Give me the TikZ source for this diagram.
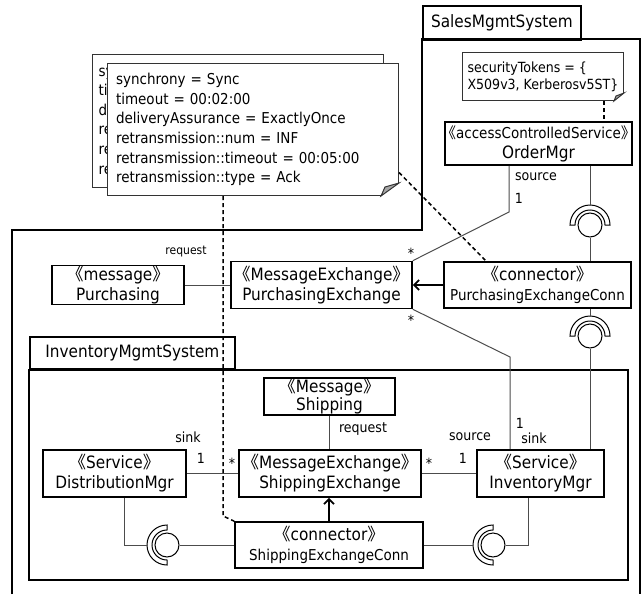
\documentclass[tikz,border=0pt]{standalone}
\usepackage{fontspec}
\setmainfont{DejaVu Sans}[FakeStretch=0.9]
\newfontfamily\cjk{Noto Sans CJK SC}
\usetikzlibrary{arrows.meta}
\newcommand\stereo[1]{{\cjk\kern-.45em《}#1{\cjk》\kern-.45em}}
\begin{document}
\begin{tikzpicture}[x=1pt,y=-1pt,
    sysframe/.style = {draw=black,line width=1.8pt},
    tab/.style = {rectangle,draw=black,line width=1.8pt,anchor=north west,inner sep=0pt,font=\fontsize{17}{20}\selectfont},
    block/.style = {rectangle,draw=black,line width=1.6pt,fill=white,align=center,inner sep=0pt,font=\fontsize{17}{20}\selectfont},
    smallblock/.style = {block,font=\fontsize{15}{20}\selectfont},
    memo/.style = {rectangle,draw=black!80,line width=1pt,fill=white,anchor=north west,align=left,inner xsep=6pt,font=\fontsize{15}{19.6}\selectfont},
    fold/.style = {draw=black!80,line width=1pt,fill=black!35},
    link/.style = {draw=black!70,line width=1pt},
    trace/.style = {draw=black,line width=1.5pt,dash pattern=on 4pt off 3pt},
    realize/.style = {draw=black,line width=1.8pt,-{Straight Barb[length=5pt,width=10pt]}},
    ball/.style = {circle,draw=black,line width=1pt,fill=white,minimum size=24pt,inner sep=0pt},
    sock/.style = {draw=black,line width=1pt,fill=white},
    lbl/.style = {inner sep=0pt,font=\fontsize{14}{16}\selectfont}]
\useasboundingbox (0,0) rectangle (642,594);
% system frames
\draw[sysframe] (12,594) -- (12,230) -- (422,230) -- (422,39) -- (640,39) -- (640,594);
\node[tab,minimum width=158pt,minimum height=34pt] (sales) at (422,5) {SalesMgmtSystem};
\node[tab,minimum width=205pt,minimum height=32pt] (inventory) at (29,336) {InventoryMgmtSystem};
\draw[sysframe] (inventory.south west) rectangle (628,580);
% notes
\node[memo,minimum width=291pt,minimum height=133pt,text width=279pt] (qosback) at (92,54)
    {sy\\ti\\d\\re\\re\\re};
\node[memo,minimum width=291pt,minimum height=132pt,text width=274pt,inner xsep=8.5pt] (qos) at (107,63)
    {synchrony = Sync\\timeout = 00:02:00\\deliveryAssurance = ExactlyOnce\\retransmission::num = INF\\retransmission::timeout = 00:05:00\\retransmission::type = Ack};
\fill[white] ([xshift=-18pt]qos.south east) -- (qos.south east) -- ([yshift=13pt]qos.south east) -- cycle;
\draw[fold] ([xshift=-18pt]qos.south east) -- ([yshift=13pt]qos.south east) -- ([xshift=-14pt,yshift=9pt]qos.south east) -- cycle;
\node[memo,minimum width=161pt,minimum height=48pt,inner xsep=0pt,font=\fontsize{14}{17}\selectfont] (tokens) at (462,52)
    {securityTokens = \{\\X509v3, Kerberosv5ST\}};
\fill[white] ([xshift=-10pt]tokens.south east) -- (tokens.south east) -- ([yshift=8pt]tokens.south east) -- cycle;
\draw[fold] ([xshift=-10pt]tokens.south east) -- ([yshift=8pt]tokens.south east) -- ([xshift=-8pt,yshift=5pt]tokens.south east) -- cycle;
% components
\node[block,minimum width=187pt,minimum height=43pt] (ordermgr) at (538.5,143.5)
    {{\fontsize{15}{18}\selectfont\stereo{accessControlledService}}\\OrderMgr};
\node[block,minimum width=132pt,minimum height=39pt] (purch) at (118,285) {\stereo{message}\\Purchasing};
\node[block,minimum width=181pt,minimum height=47pt] (pe) at (321.5,285) {\stereo{MessageExchange}\\PurchasingExchange};
\node[smallblock,minimum width=187pt,minimum height=46pt] (pconn) at (537.5,285)
    {{\fontsize{17}{20}\selectfont\stereo{connector}}\\PurchasingExchangeConn};
\node[block,minimum width=131pt,minimum height=37pt,font=\fontsize{17}{18}\selectfont] (ship) at (329.5,396.5) {\stereo{Message}\\Shipping};
\node[block,minimum width=143pt,minimum height=47pt] (dm) at (114.5,473.5) {\stereo{Service}\\DistributionMgr};
\node[block,minimum width=182pt,minimum height=47pt] (se) at (330,473.5) {\stereo{MessageExchange}\\ShippingExchange};
\node[block,minimum width=127pt,minimum height=47pt] (im) at (540.5,473.5) {\stereo{Service}\\InventoryMgr};
\node[smallblock,minimum width=188pt,minimum height=46pt] (sconn) at (329,545)
    {{\fontsize{17}{20}\selectfont\stereo{connector}}\\ShippingExchangeConn};
% ball and socket
\foreach \n/\x/\y/\a/\b in {up/590/225/0/180, mid/590/336/0/180, left/167/545/90/270, right/493/545/90/270}{
    \draw[sock] ([shift={(\a:20pt)}]\x,\y) arc[start angle=\a,delta angle=180,radius=20pt]
        -- ([shift={(\b:15pt)}]\x,\y) arc[start angle=\b,delta angle=-180,radius=15pt] -- cycle;
    \node[ball] (\n) at (\x,\y) {};
}
% connectors
\coordinate (obend) at (509,212);
\draw[link] (ordermgr.south -| obend) -- (obend) -- (pe.north east);
\coordinate (ibend) at (510,357);
\draw[link] (pe.south east) -- (ibend) -- (im.north -| ibend);
\draw[link] (purch.east) -- (pe.west);
\draw[realize] (pconn.west) -- (pe.east);
\draw[link] (ship.south) -- (ship.south |- se.north);
\draw[link] (dm.east) -- (se.west);
\draw[link] (se.east) -- (im.west);
\draw[realize] (sconn.north) -- (sconn.north |- se.south);
\draw[link] (ordermgr.south -| up) -- ([yshift=20pt]up.center);
\draw[link] (up.south) -- (pconn.north -| up);
\draw[link] (pconn.south -| mid) -- ([yshift=20pt]mid.center);
\draw[link] (mid.south) -- (im.north -| mid);
\coordinate (lbend) at (124,545);
\draw[link] (dm.south -| lbend) -- (lbend) -- ([xshift=-20pt]left.center);
\draw[link] (left.east) -- (sconn.west |- left);
\coordinate (rbend) at (528,545);
\draw[link] (sconn.east |- right) -- ([xshift=-20pt]right.center);
\draw[link] (right.east) -- (rbend) -- (im.south -| rbend);
% dependencies
\coordinate (tk) at ([xshift=-20pt]tokens.south east);
\draw[trace] (tk) -- (tk |- ordermgr.north);
\coordinate (dbend) at (223,516);
\draw[trace] (qos.south -| dbend) -- (dbend) -- (sconn.north west);
\draw[trace] ([yshift=-43pt]qos.east) -- ([xshift=43pt]pconn.north west);
% end labels
\foreach \t/\x/\y [count=\k] in {source/536/177, 1/519/198, */411/253, */411/320, 1/520/423, sink/534/438,
    sink/188/437, 1/201/458, */232/463, */429/463, 1/463/458, source/470/437, request/363/429}
    \node[lbl] (end\k) at (\x,\y) {\t};
\node[lbl,font=\fontsize{12}{14}\selectfont] (req) at (186,252) {request};
\end{tikzpicture}
\end{document}
